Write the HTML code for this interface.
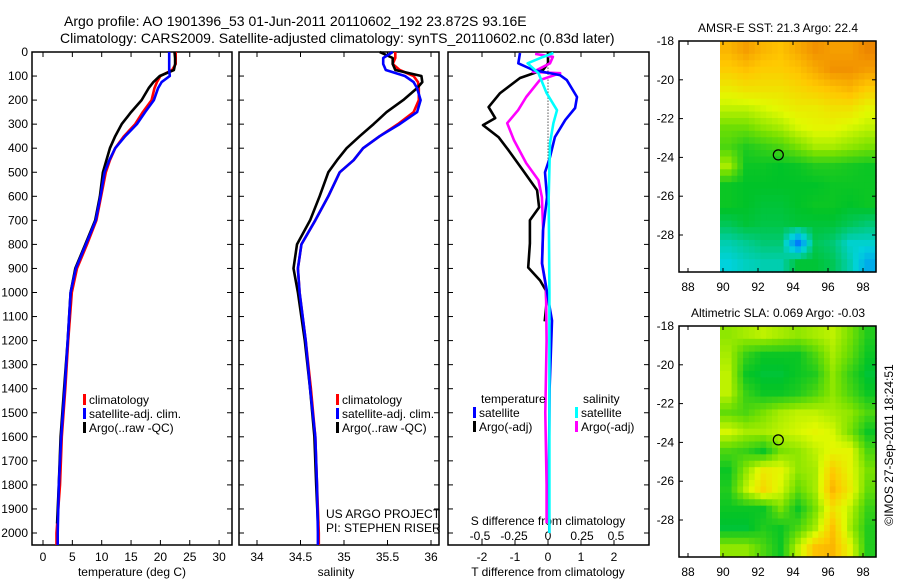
<!DOCTYPE html>
<html><head><meta charset="utf-8"><style>
html,body{margin:0;padding:0;background:#fff;}
svg{display:block;font-family:"Liberation Sans",Arial,sans-serif;}
</style></head><body>
<svg id="s" width="900" height="580" viewBox="0 0 900 580" xmlns="http://www.w3.org/2000/svg">
<rect width="900" height="580" fill="#fff"/>
<text x="64" y="26" font-size="14">Argo profile: AO 1901396_53 01-Jun-2011 20110602_192 23.872S 93.16E</text>
<text x="60" y="43" font-size="14">Climatology: CARS2009. Satellite-adjusted climatology: synTS_20110602.nc (0.83d later)</text>
<g id="g"></g>
</svg>
<script>
// ---------- data ----------
const depths = [0,25,50,75,100,125,150,200,250,300,350,400,450,500,600,700,800,900,1000,1200,1400,1600,1800,1960];
const depthsClim = [0,25,50,75,100,125,150,200,250,300,350,400,450,500,600,700,800,900,1000,1200,1400,1600,1800,2000,2050];
const tempArgo = [22.4,22.5,22.5,22.3,19.9,18.8,18.0,16.8,15.0,13.4,12.3,11.4,10.8,10.2,9.7,8.9,7.2,5.5,4.7,4.2,3.6,3.0,2.7,2.4];
const tempClim = [22.6,22.6,22.6,22.0,20.0,19.4,19.0,18.5,17.0,15.7,13.8,12.3,11.4,10.7,9.9,9.1,7.5,5.8,4.9,4.3,3.8,3.2,2.9,2.3,2.3];
const tempSat  = [21.5,21.5,21.5,21.5,21.6,20.2,19.6,18.9,17.4,16.0,14.0,12.3,11.3,10.5,9.8,9.0,7.3,5.6,4.7,4.2,3.7,3.1,2.7,2.5,2.5];
const salArgo = [35.41,35.56,35.56,35.59,35.89,35.90,35.84,35.68,35.49,35.34,35.18,35.03,34.92,34.82,34.72,34.61,34.46,34.42,34.47,34.55,34.61,34.66,34.68,34.70];
const salClim = [35.59,35.59,35.56,35.64,35.80,35.85,35.86,35.86,35.80,35.62,35.41,35.22,35.11,34.95,34.82,34.67,34.51,34.47,34.49,34.56,34.62,34.67,34.69,34.71,34.71];
const salSat  = [35.56,35.45,35.45,35.48,35.70,35.80,35.84,35.88,35.84,35.64,35.41,35.22,35.11,34.95,34.82,34.67,34.51,34.47,34.49,34.56,34.61,34.67,34.69,34.70,34.70];
const dDepthTA = [0,47,75,108,171,229,275,304,354,408,492,575,646,700,796,896,950,992,1050,1120];
const dTempArgo = [0,0,-0.15,-0.85,-1.45,-1.8,-1.6,-1.97,-1.5,-1.2,-0.76,-0.33,-0.27,-0.55,-0.55,-0.6,-0.24,-0.06,-0.05,-0.1];
const dDepthTS = [4,47,75,96,117,187,233,283,354,437,500,604,742,879,1021,1117,1400,1700,2000];
const dTempSat = [-0.85,-0.9,-0.45,0.36,0.57,0.88,0.82,0.52,0.21,0.06,-0.09,-0.03,-0.15,-0.18,0,0.12,0.05,0.03,0.04];
const dDepthSA = [8,20,47,83,88,117,187,242,296,367,462,533,604,742,879,979,1200,1500,1800,1960];
const dSalArgo = [-0.095,0.036,0.015,-0.11,0.09,-0.06,-0.16,-0.22,-0.30,-0.25,-0.16,-0.07,-0.045,-0.035,-0.045,-0.015,-0.01,-0.02,-0.01,-0.01];
const dDepthSS = [4,21,47,88,171,242,296,379,604,1000,1500,2000];
const dSalSat = [0.04,-0.04,-0.15,-0.07,-0.01,0.066,0.04,0.015,0.005,0.01,0.01,0.01];
const depthTicks = [0,100,200,300,400,500,600,700,800,900,1000,1100,1200,1300,1400,1500,1600,1700,1800,1900,2000];
const tempTicks = [0,5,10,15,20,25,30];
const salTicks = [34,34.5,35,35.5,36];
const tdTicks = [-2,-1,0,1,2];
const sdTicks = [-0.5,-0.25,0,0.25,0.5];
const lonTicks = [88,90,92,94,96,98];
const latTicks = [-18,-20,-22,-24,-26,-28];
const sstGrid = [
[.78,.82,.78,.76,.80,.84,.82,.82,.86],
[.74,.76,.74,.74,.76,.80,.84,.84,.82],
[.68,.70,.70,.70,.72,.74,.76,.78,.74],
[.62,.62,.64,.66,.68,.68,.70,.70,.66],
[.55,.55,.58,.60,.64,.66,.66,.64,.62],
[.52,.48,.50,.52,.56,.60,.60,.58,.56],
[.60,.46,.46,.45,.46,.48,.48,.47,.46],
[.46,.45,.45,.45,.45,.45,.46,.46,.46],
[.46,.45,.44,.44,.45,.46,.46,.45,.46],
[.42,.44,.43,.43,.44,.44,.44,.42,.40],
[.36,.38,.40,.40,.22,.42,.40,.34,.34],
[.33,.35,.36,.36,.44,.44,.42,.36,.28]];
const slaGrid = [
[.58,.60,.62,.60,.58,.60,.62,.56,.48],
[.60,.50,.46,.46,.46,.52,.60,.54,.46],
[.62,.46,.44,.44,.46,.48,.58,.50,.44],
[.62,.50,.46,.46,.48,.52,.58,.52,.46],
[.54,.52,.56,.60,.62,.62,.60,.58,.52],
[.64,.60,.60,.62,.64,.66,.64,.56,.46],
[.52,.50,.46,.56,.58,.62,.66,.66,.52],
[.46,.58,.68,.66,.58,.60,.74,.66,.56],
[.48,.62,.72,.64,.54,.60,.78,.68,.54],
[.46,.46,.46,.56,.46,.56,.70,.62,.50],
[.44,.44,.48,.46,.52,.60,.76,.60,.48],
[.58,.58,.52,.46,.62,.76,.78,.66,.48]];
const argoLon = [93.16];
const argoLat = [-23.87];

// ---------- helpers ----------
const NS = "http://www.w3.org/2000/svg";
const G = document.getElementById('g');
function mk(tag, attrs, parent){const e=document.createElementNS(NS,tag);for(const k in attrs)e.setAttribute(k,attrs[k]);(parent||G).appendChild(e);return e;}
const TOP=52, BOT=545;
const yD = d => 52 + d*0.2405;
const xT = t => 43 + t*5.87;
const xS = s => 257 + (s-34)*87;
const xTD = t => 548 + t*33;
const xSD = s => 548 + s*136;

function panel(x0,x1,name){
  const r=mk('rect',{x:x0,y:TOP,width:x1-x0,height:BOT-TOP,fill:'none',stroke:'#000','stroke-width':1.5});
  
  
  depthTicks.forEach(d=>{
    const y=yD(d);
    mk('line',{x1:x0,x2:x0+5,y1:y,y2:y,stroke:'#000'});
    mk('line',{x1:x1-5,x2:x1,y1:y,y2:y,stroke:'#000'});
  });
}
function xticks(vals,fx,y,name){
  vals.forEach(v=>{
    const x=fx(v);
    mk('line',{x1:x,x2:x,y1:TOP,y2:TOP+5,stroke:'#000'});
    mk('line',{x1:x,x2:x,y1:BOT-5,y2:BOT,stroke:'#000'});
    const t=mk('text',{x:x,y:y,'font-size':12,'text-anchor':'middle'});
    t.textContent=String(v);
    
    
  });
}
function line(ds,vs,fx,color,name,w){
  const pts=ds.map((d,i)=>fx(vs[i]).toFixed(1)+','+yD(d).toFixed(1)).join(' ');
  const p=mk('polyline',{points:pts,fill:'none',stroke:color,'stroke-width':w||2.6,'stroke-linejoin':'round'});
  
  
}
function txt(x,y,s,name,size,anchor){
  const t=mk('text',{x:x,y:y,'font-size':size||12,'text-anchor':anchor||'start'});
  t.textContent=s;
  
  
  return t;
}
function legend(x,y,color,label,name){
  const r=mk('rect',{x:x,y:y-10,width:3,height:11,fill:color});
  
  
  txt(x+6,y,label,name);
}

// ---------- panel 1: temperature ----------
panel(32,232,'temperature-axes');
depthTicks.forEach(d=>{
  const t=txt(28,yD(d)+4,String(d),'depth-tick-label',12,'end');
});
xticks(tempTicks,xT,561,'temperature-tick-label');
txt(132,576,'temperature (deg C)','temperature-axis-title',12,'middle');
line(depthsClim,tempClim,xT,'#f00','temperature-climatology-line');
line(depths,tempArgo,xT,'#000','temperature-argo-line');
line(depthsClim,tempSat,xT,'#00f','temperature-satellite-line');
legend(83,404,'#f00','climatology','legend-climatology');
legend(83,418,'#00f','satellite-adj. clim.','legend-satellite-adj');
legend(83,432,'#000','Argo(..raw -QC)','legend-argo');

// ---------- panel 2: salinity ----------
panel(239,439,'salinity-axes');
xticks(salTicks,xS,561,'salinity-tick-label');
txt(336,576,'salinity','salinity-axis-title',12,'middle');
line(depthsClim,salClim,xS,'#f00','salinity-climatology-line');
line(depths,salArgo,xS,'#000','salinity-argo-line');
line(depthsClim,salSat,xS,'#00f','salinity-satellite-line');
legend(336,404,'#f00','climatology','legend-climatology-2');
legend(336,418,'#00f','satellite-adj. clim.','legend-satellite-adj-2');
legend(336,432,'#000','Argo(..raw -QC)','legend-argo-2');
txt(326,518,'US ARGO PROJECT','project-label');
txt(326,532,'PI: STEPHEN RISER','pi-label');

// ---------- panel 3: differences ----------
panel(448,649,'difference-axes');
tdTicks.forEach(v=>{
  const x=xTD(v);
  mk('line',{x1:x,x2:x,y1:TOP,y2:TOP+5,stroke:'#000'});
  mk('line',{x1:x,x2:x,y1:BOT-5,y2:BOT,stroke:'#000'});
  txt(x,561,String(v),'t-diff-tick-label',12,'middle');
});
sdTicks.forEach(v=>{ txt(xSD(v),540,String(v),'s-diff-tick-label',12,'middle'); });
txt(548,525,'S difference from climatology','s-diff-axis-title',12,'middle');
txt(548,576,'T difference from climatology','t-diff-axis-title',12,'middle');
mk('line',{x1:xTD(0),x2:xTD(0),y1:yD(40),y2:yD(460),stroke:'#000','stroke-dasharray':'1,2'});
line(dDepthTA,dTempArgo,xTD,'#000','t-diff-argo-line');
line(dDepthSA,dSalArgo,xSD,'#f0f','s-diff-argo-line');
line(dDepthTS,dTempSat,xTD,'#00f','t-diff-satellite-line');
line(dDepthSS,dSalSat,xSD,'#0ff','s-diff-satellite-line');
txt(481,403,'temperature','legend-temperature-heading');
legend(473,417,'#00f','satellite','legend-t-satellite');
legend(473,431,'#000','Argo(-adj)','legend-t-argo');
txt(583,403,'salinity','legend-salinity-heading');
legend(575,417,'#0ff','satellite','legend-s-satellite');
legend(575,431,'#f0f','Argo(-adj)','legend-s-argo');

// ---------- maps ----------
const stops=[[0,[0,0,170]],[0.2,[0,110,255]],[0.33,[0,210,220]],[0.45,[0,195,40]],[0.56,[120,225,0]],[0.65,[225,250,0]],[0.75,[255,200,0]],[0.85,[240,140,0]],[1,[190,60,0]]];
function cmap(v){
  for(let i=1;i<stops.length;i++){ if(v<=stops[i][0]){const a=stops[i-1],b=stops[i];const f=(v-a[0])/(b[0]-a[0]);
    return 'rgb('+a[1].map((c,k)=>Math.round(c+(b[1][k]-c)*f)).join(',')+')';}}
  return 'rgb(190,60,0)';
}
function mapPanel(top,grid,title,name){
  const L=679,R=876,lon0=88,dlon=17.5,bottom=top+231;
  const xL=l=>688+(l-lon0)*dlon, yL=a=>top+(-18-a)*19.4;
  const tt=txt(778,top-9,title,name+'-title',12,'middle');
  const g=mk('g',{});
  
  
  const rows=grid.length, cols=grid[0].length, sub=3;
  const x0=720, x1=R, cw=(x1-x0)/(cols*sub), ch=(bottom-top)/(rows*sub);
  for(let r=0;r<rows*sub;r++)for(let c=0;c<cols*sub;c++){
    const fr=Math.min(rows-1,Math.max(0,(r+0.5)/sub-0.5)), fc=Math.min(cols-1,Math.max(0,(c+0.5)/sub-0.5));
    const r0=Math.floor(fr),c0=Math.floor(fc),r1=Math.min(rows-1,r0+1),c1=Math.min(cols-1,c0+1),ar=fr-r0,ac=fc-c0;
    const v=grid[r0][c0]*(1-ar)*(1-ac)+grid[r0][c1]*(1-ar)*ac+grid[r1][c0]*ar*(1-ac)+grid[r1][c1]*ar*ac;
    const cell=mk('rect',{x:(x0+c*cw).toFixed(2),y:(top+r*ch).toFixed(2),width:(cw+0.6).toFixed(2),height:(ch+0.6).toFixed(2),fill:cmap(v)},g);
    
    
  }
  const fr=mk('rect',{x:L,y:top,width:R-L,height:bottom-top,fill:'none',stroke:'#000','stroke-width':1.5});
  
  
  lonTicks.forEach(l=>{const x=xL(l);
    mk('line',{x1:x,x2:x,y1:bottom-4,y2:bottom,stroke:'#000'});
    mk('line',{x1:x,x2:x,y1:top,y2:top+4,stroke:'#000'});
    txt(x,bottom+19,String(l),name+'-lon-tick',12,'middle');});
  latTicks.forEach(a=>{const y=yL(a);
    mk('line',{x1:L,x2:L+4,y1:y,y2:y,stroke:'#000'});
    mk('line',{x1:R-4,x2:R,y1:y,y2:y,stroke:'#000'});
    txt(L-5,y+4,String(a),name+'-lat-tick',12,'end');});
  argoLon.forEach((lo,i)=>{
    const c=mk('circle',{cx:xL(lo),cy:yL(argoLat[i]),r:5,fill:'none',stroke:'#000','stroke-width':1.2});
    
    
  });
}
mapPanel(41,sstGrid,'AMSR-E SST: 21.3 Argo: 22.4','sst-map');
mapPanel(326,slaGrid,'Altimetric SLA: 0.069 Argo: -0.03','sla-map');
const cp=txt(0,0,'©IMOS 27-Sep-2011 18:24:51','copyright-timestamp',12,'middle');
cp.setAttribute('transform','translate(893,445) rotate(-90)');
</script>
</body></html>
